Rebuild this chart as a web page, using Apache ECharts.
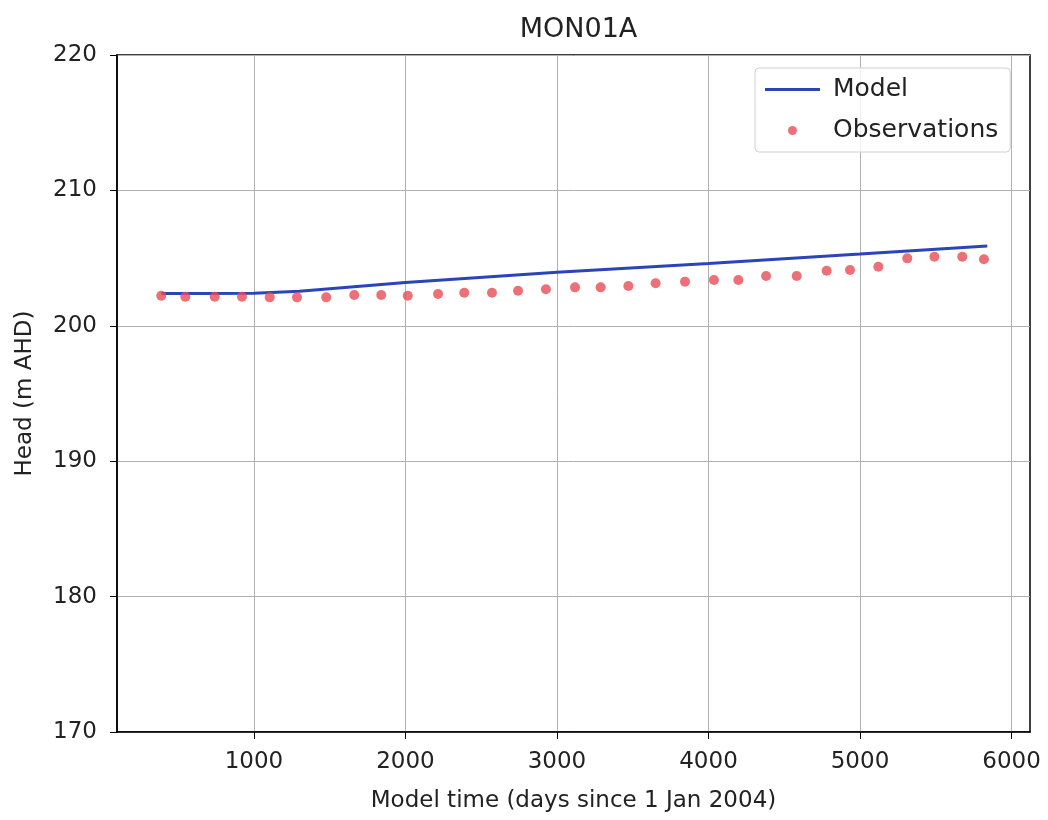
<!DOCTYPE html>
<html>
<head>
<meta charset="utf-8">
<script src="https://cdn.jsdelivr.net/npm/echarts@6/dist/echarts.min.js"></script>
<style>
  html, body { margin: 0; padding: 0; background: #fff; }
  #main { width: 1048px; height: 820px; }
</style>
</head>
<body>
<div id="main"></div>
<script>
// observations (day, head m AHD)
var obsDays = [388, 547, 741, 921, 1104, 1284, 1477, 1662, 1840, 2015, 2215, 2388, 2571, 2743, 2927,
  3119, 3288, 3471, 3651, 3845, 4036, 4197, 4380, 4582, 4780, 4934, 5121, 5312, 5491, 5675, 5818];
var obsHead = [202.22, 202.15, 202.15, 202.15, 202.10, 202.10, 202.10, 202.27, 202.27, 202.22, 202.35, 202.44, 202.44, 202.59, 202.70,
  202.84, 202.84, 202.94, 203.14, 203.26, 203.38, 203.38, 203.68, 203.68, 204.07, 204.12, 204.36, 204.98, 205.10, 205.10, 204.91];

// model line
var modelDays = [388, 700, 1000, 1300, 2000, 3000, 4000, 5000, 5840];
var modelHead = [202.38, 202.38, 202.40, 202.55, 203.20, 203.95, 204.60, 205.30, 205.90];

var xTicks = [1000, 2000, 3000, 4000, 5000, 6000];

var chart = echarts.init(document.getElementById('main'));
var font = 'DejaVu Sans';

var option = {
  backgroundColor: '#fff',
  animation: false,
  title: {
    text: 'MON01A',
    left: 573.5,
    top: 11,
    textAlign: 'center',
    textStyle: { fontFamily: font, fontSize: 27, fontWeight: 'normal', color: '#222' }
  },
  legend: {
    orient: 'vertical',
    left: 755,
    top: 68,
    padding: [9, 12, 9, 10],
    itemWidth: 55,
    itemHeight: 9,
    itemGap: 16,
    backgroundColor: 'rgba(255,255,255,0.8)',
    borderColor: '#d0d0d0',
    borderWidth: 1,
    borderRadius: 4,
    textStyle: { fontFamily: font, fontSize: 25, color: '#222', padding: [0, 0, 0, 8], lineHeight: 25 },
    data: [
      { name: 'Model', icon: 'path://M0,0H55V3H0Z' },
      { name: 'Observations', icon: 'circle' }
    ]
  },
  grid: {
    left: 117, right: 18, top: 55, bottom: 88,
    show: true, borderColor: '#000', borderWidth: 1.5
  },
  xAxis: {
    type: 'value',
    min: 96,
    max: 6122,
    name: 'Model time (days since 1 Jan 2004)',
    nameLocation: 'middle',
    nameGap: 58,
    nameTextStyle: { fontFamily: font, fontSize: 23, color: '#222' },
    axisLine: { show: true, onZero: false, lineStyle: { color: '#000', width: 1.5 } },
    axisTick: { show: true, length: 7, customValues: xTicks, lineStyle: { color: '#000' } },
    axisLabel: {
      customValues: xTicks, margin: 19, fontFamily: font, fontSize: 23, color: '#222',
      formatter: function (v) { return String(v); }
    },
    splitLine: { show: true, lineStyle: { color: '#b0b0b0', width: 1 } }
  },
  yAxis: {
    type: 'value',
    min: 170,
    max: 220,
    interval: 10,
    name: 'Head (m AHD)',
    nameLocation: 'middle',
    nameGap: 80,
    nameTextStyle: { fontFamily: font, fontSize: 23, color: '#222' },
    axisLine: { show: true, onZero: false, lineStyle: { color: '#000', width: 1.5 } },
    axisTick: { show: true, length: 7, lineStyle: { color: '#000' } },
    axisLabel: { margin: 20, fontFamily: font, fontSize: 23, color: '#222' },
    splitLine: { show: true, lineStyle: { color: '#b0b0b0', width: 1 } }
  },
  series: [
    {
      name: 'Model',
      type: 'line',
      symbol: 'none',
      data: modelDays.map(function (d, i) { return [d, modelHead[i]]; }),
      lineStyle: { color: '#2b44b8', width: 3 },
      itemStyle: { color: '#2b44b8' },
      z: 3
    },
    {
      name: 'Observations',
      type: 'scatter',
      symbol: 'circle',
      symbolSize: 10,
      data: obsDays.map(function (d, i) { return [d, obsHead[i]]; }),
      itemStyle: { color: '#e84c56' },
      z: 4
    }
  ]
};

chart.setOption(option);
</script>
</body>
</html>
